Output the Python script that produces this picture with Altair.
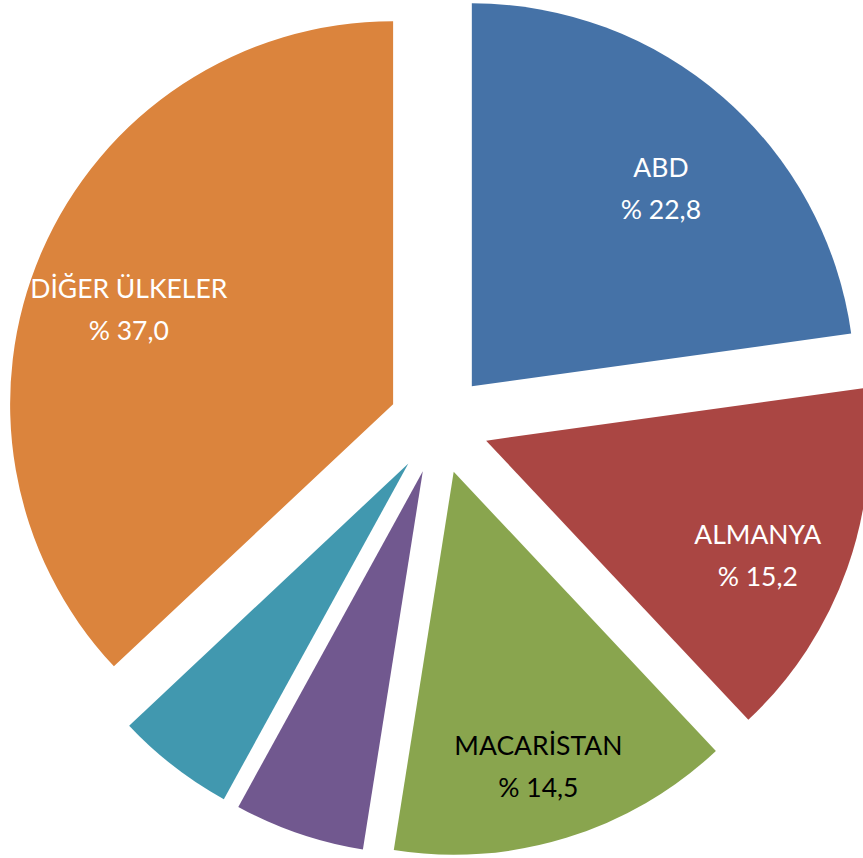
import altair as alt
import pandas as pd

# Data
countries = ["ABD", "ALMANYA", "MACARİSTAN", "ROMANYA", "İTALYA", "DİĞER ÜLKELER"]
shares = [22.8, 15.2, 14.5, 5.5, 5.0, 37.0]
show_label = [1, 1, 1, 0, 0, 1]

slice_colors = ["#4572A7", "#AA4643", "#89A54E", "#71588F", "#4198AF", "#DB843D"]
text_colors = ["#FFFFFF", "#FFFFFF", "#000000", "#FFFFFF", "#FFFFFF", "#FFFFFF"]

df = pd.DataFrame({
    "country": countries,
    "share": shares,
    "show": show_label,
    "idx": list(range(len(countries))),
})

# layout constants (pixels)
CX, CY = 439, 424      # pie centre
OFF = 50               # explode distance
R = 383                # pie radius
LR = 288               # label distance from slice apex

base = alt.Chart(df).transform_window(
    cum="sum(share)", sort=[alt.SortField("idx")], frame=[None, 0]
).transform_calculate(
    a0="(datum.cum - datum.share) / 100 * 2 * PI",
    a1="datum.cum / 100 * 2 * PI",
).transform_calculate(
    mid="(datum.a0 + datum.a1) / 2",
).transform_calculate(
    cx=f"{CX} + {OFF} * sin(datum.mid)",
    cy=f"{CY} - {OFF} * cos(datum.mid)",
).transform_calculate(
    lx=f"datum.cx + {LR} * sin(datum.mid)",
    ly=f"datum.cy - {LR} * cos(datum.mid)",
    label="datum.show ? datum.country + '\\n% ' + replace(format(datum.share, '.1f'), '.', ',') : ''",
)

arcs = base.mark_arc(radius=R, stroke=None).encode(
    x=alt.X("cx:Q", scale=None),
    y=alt.Y("cy:Q", scale=None),
    theta=alt.Theta("a0:Q", scale=None),
    theta2=alt.Theta2("a1:Q"),
    color=alt.Color("country:N", scale=alt.Scale(domain=countries, range=slice_colors), legend=None),
)

labels = base.mark_text(
    font="Lato", fontSize=26.5, lineBreak="\n", lineHeight=42,
    align="center", baseline="middle",
).encode(
    x=alt.X("lx:Q", scale=None),
    y=alt.Y("ly:Q", scale=None),
    text="label:N",
    color=alt.Color("country:N", scale=alt.Scale(domain=countries, range=text_colors), legend=None),
)

chart = alt.layer(arcs, labels).resolve_scale(color="independent").properties(
    width=863, height=858,
    autosize=alt.AutoSizeParams(type="none"),
    padding=0,
    background="white",
).configure_view(stroke=None)

chart.save("out.html", embed_options={"renderer": "svg", "actions": False})
